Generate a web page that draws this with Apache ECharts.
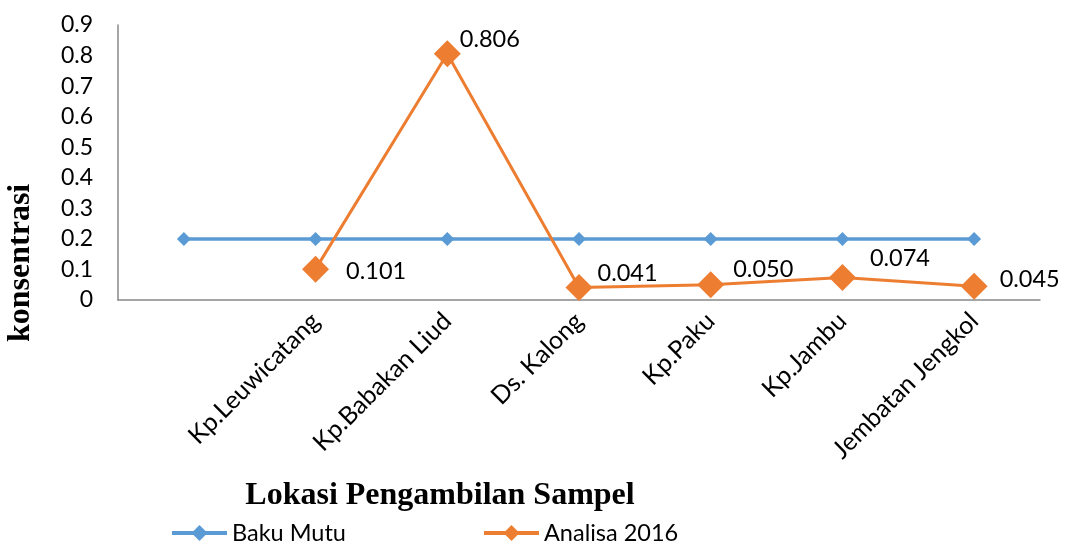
<!DOCTYPE html>
<html><head><meta charset="utf-8">
<script src="https://cdn.jsdelivr.net/npm/echarts@6/dist/echarts.min.js"></script>
<style>html,body{margin:0;padding:0;background:#fff}#c{width:1065px;height:545px}</style>
</head><body><div id="c"></div>
<script>
const categories = ['', 'Kp.Leuwicatang', 'Kp.Babakan Liud', 'Ds. Kalong', 'Kp.Paku', 'Kp.Jambu', 'Jembatan Jengkol'];
const bakuMutu = [0.2, 0.2, 0.2, 0.2, 0.2, 0.2, 0.2];
const analisa2016 = [null, 0.101, 0.806, 0.041, 0.050, 0.074, 0.045];
const yTicks = ['0', '0.1', '0.2', '0.3', '0.4', '0.5', '0.6', '0.7', '0.8', '0.9'];
const seriesNames = ['Baku Mutu', 'Analisa 2016'];
const xTitle = 'Lokasi Pengambilan Sampel';
const yTitle = 'konsentrasi';

// label offsets (style only)
const labelOffsets = [[0,0],[17,2],[-1,-14],[5,-14],[9,-15],[14,-19],[12,-7]];
const numFont = 'Lato';

const analisaData = analisa2016.map((v, i) => v == null ? null : {
  value: v,
  label: { offset: labelOffsets[i] }
});

const chart = echarts.init(document.getElementById('c'));
chart.setOption({
  animation: false,
  grid: { left: 118, right: 25, top: 25, bottom: 245, containLabel: false },
  xAxis: {
    type: 'category', data: categories, boundaryGap: true,
    axisLine: { show: true, lineStyle: { color: '#898989', width: 1.5 } },
    axisTick: { show: false },
    axisLabel: { rotate: 45, margin: 17, color: '#000', fontSize: 25, fontFamily: numFont, interval: 0 }
  },
  yAxis: {
    type: 'value', min: 0, max: 0.9, interval: 0.1,
    axisLine: { show: true, lineStyle: { color: '#898989', width: 1.5 } },
    axisTick: { show: false },
    splitLine: { show: false },
    axisLabel: { color: '#000', fontSize: 23, fontFamily: numFont, margin: 25,
      formatter: (v) => yTicks[Math.round(v * 10)] }
  },
  legend: {
    left: 165, top: 516, itemGap: 136, itemWidth: 55, itemHeight: 20,
    lineStyle: { width: 4 },
    textStyle: { fontSize: 23.5, fontFamily: numFont, color: '#000', padding: [0,0,0,0] },
    data: seriesNames
  },
  graphic: [
    { type: 'text', x: 440, y: 496,
      style: { text: xTitle, font: 'bold 32px "Liberation Serif"', fill: '#000', align: 'center', verticalAlign: 'middle' } },
    { type: 'text', rotation: Math.PI / 2, x: 5, y: 342,
      style: { text: yTitle, font: 'bold 32px "Liberation Serif"', fill: '#000', align: 'left', verticalAlign: 'top' } }
  ],
  series: [
    { name: seriesNames[0], type: 'line', data: bakuMutu,
      symbol: 'diamond', symbolSize: 14,
      lineStyle: { color: '#5B9BD5', width: 3.5 }, itemStyle: { color: '#5B9BD5' } },
    { name: seriesNames[1], type: 'line', data: analisaData, connectNulls: false,
      symbol: 'diamond', symbolSize: 27,
      lineStyle: { color: '#ED7D31', width: 3 }, itemStyle: { color: '#ED7D31' },
      label: { show: true, position: 'right', distance: 0, color: '#000', fontSize: 23.5, fontFamily: numFont,
        formatter: (p) => p.value.toFixed(3) } }
  ]
});
</script></body></html>
